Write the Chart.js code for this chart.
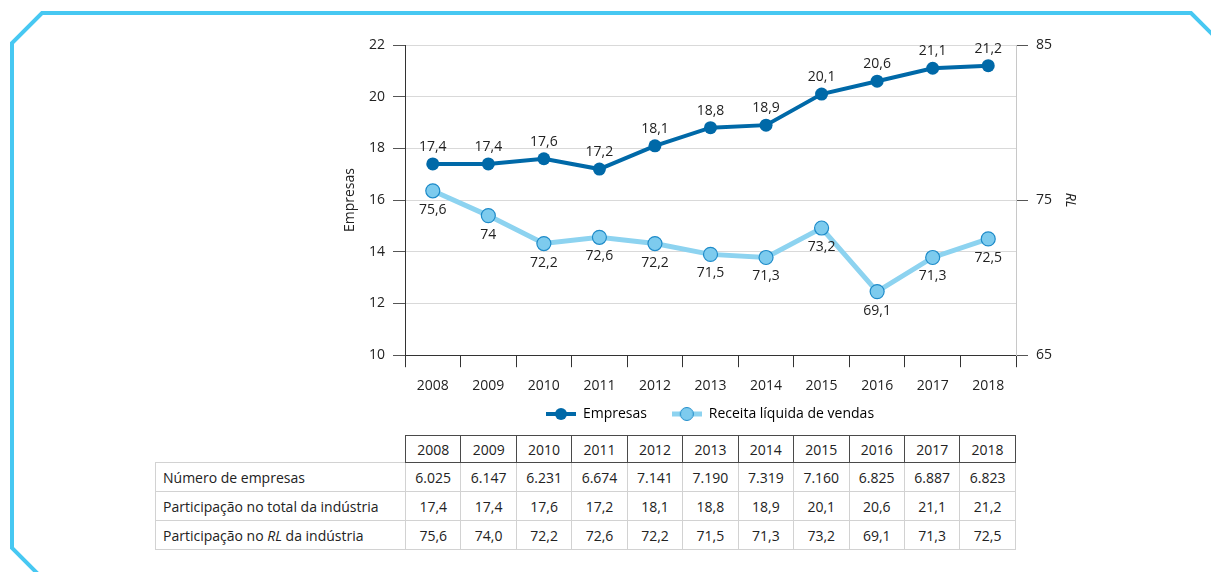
<!DOCTYPE html>
<html>
<head>
<meta charset="utf-8">
<script src="https://cdn.jsdelivr.net/npm/chart.js@4"></script>
<style>
  html, body { margin: 0; padding: 0; background: #fff; }
  body { width: 1211px; height: 572px; position: relative; overflow: hidden; font-family: 'Open Sans', sans-serif; color: #222; }
  #frame { position: absolute; left: 0; top: 0; }
  #chartBox { position: absolute; left: 0; top: 0; width: 1211px; height: 431px; }
  #dataTable { position: absolute; left: 155px; top: 435px; border-collapse: collapse; font-size: 14px; color: #222; table-layout: fixed; }
  #dataTable th, #dataTable td { height: 26px; padding: 0; text-align: center; font-weight: normal; }
  #dataTable thead th { border: 1.5px solid #4a4a4a; }
  #dataTable thead th.blank { border: none; }
  #dataTable tbody td { border: 1px solid #d2d2d2; height: 28px; }
  #dataTable tbody td.rowLabel { text-align: left; padding-left: 7px; }
</style>
</head>
<body>
<svg id="frame" width="1211" height="572">
  <polyline points="60,596 12,548 12,43 42,13 1191,13 1240,62" fill="none" stroke="#47c8f2" stroke-width="4"/>
</svg>
<div id="chartBox"><canvas id="graph1"></canvas></div>
<table id="dataTable"></table>

<script>
// chart data
var years = ["2008", "2009", "2010", "2011", "2012", "2013", "2014", "2015", "2016", "2017", "2018"];
var empresasShare = [17.4, 17.4, 17.6, 17.2, 18.1, 18.8, 18.9, 20.1, 20.6, 21.1, 21.2];
var rlShare = [75.6, 74.0, 72.2, 72.6, 72.2, 71.5, 71.3, 73.2, 69.1, 71.3, 72.5];
var numEmpresas = ["6.025", "6.147", "6.231", "6.674", "7.141", "7.190", "7.319", "7.160", "6.825", "6.887", "6.823"];
var leftTicks = [10, 12, 14, 16, 18, 20, 22];
var rightTicks = [65, 75, 85];

var darkBlue = "rgba(0, 105, 168, 1)";
var lightLine = "rgba(141, 211, 240, 1)";
var lightFill = "rgba(125, 203, 238, 1)";
var lightBorder = "rgba(30, 139, 201, 1)";
var textCol = "#222";

Chart.defaults.font.family = "'Open Sans', sans-serif";
Chart.defaults.font.size = 14;
Chart.defaults.color = textCol;

//Build the data table
var table = document.getElementById("dataTable");
var colGroup = document.createElement("colgroup");
var firstCol = document.createElement("col");
firstCol.style.width = "250px";
colGroup.appendChild(firstCol);
years.forEach(() => {
    let c = document.createElement("col");
    c.style.width = "55.45px";
    colGroup.appendChild(c);
});
table.appendChild(colGroup);

var thead = document.createElement("thead");
var headRow = document.createElement("tr");
var blank = document.createElement("th");
blank.className = "blank";
headRow.appendChild(blank);
years.forEach(y => {
    let th = document.createElement("th");
    th.textContent = y;
    headRow.appendChild(th);
});
thead.appendChild(headRow);
table.appendChild(thead);

function fmt(v, keepDecimal){
    return (keepDecimal ? v.toFixed(1) : String(v)).replace(".", ",");
}

var tbody = document.createElement("tbody");
var rows = [
    ["Número de empresas", numEmpresas],
    ["Participação no total da indústria", empresasShare.map(v => fmt(v, true))],
    ["Participação no <i>RL</i> da indústria", rlShare.map(v => fmt(v, true))]
];
rows.forEach(r => {
    let tr = document.createElement("tr");
    let lab = document.createElement("td");
    lab.className = "rowLabel";
    lab.innerHTML = r[0];
    tr.appendChild(lab);
    r[1].forEach(v => {
        let td = document.createElement("td");
        td.textContent = v;
        tr.appendChild(td);
    });
    tbody.appendChild(tr);
});
table.appendChild(tbody);

//Legend icons: line with a circle on it
function legendIcon(lineCol, fillCol, strokeCol, lineW, r){
    let c = document.createElement("canvas");
    c.width = 30;
    c.height = 16;
    let ctx = c.getContext("2d");
    ctx.strokeStyle = lineCol;
    ctx.lineWidth = lineW;
    ctx.beginPath();
    ctx.moveTo(0, 8);
    ctx.lineTo(30, 8);
    ctx.stroke();
    ctx.beginPath();
    ctx.arc(15, 8, r, 0, Math.PI * 2);
    ctx.fillStyle = fillCol;
    ctx.fill();
    if(strokeCol){
        ctx.lineWidth = 1;
        ctx.strokeStyle = strokeCol;
        ctx.stroke();
    }
    return c;
}
var iconEmp = legendIcon(darkBlue, darkBlue, null, 4, 6);
var iconRl = legendIcon(lightLine, lightFill, lightBorder, 5, 6.5);

//Value labels drawn over the points
var valueLabels = {
    id: "valueLabels",
    afterDatasetsDraw(chart){
        let ctx = chart.ctx;
        ctx.save();
        ctx.font = "14px 'Open Sans', sans-serif";
        ctx.fillStyle = textCol;
        ctx.textAlign = "center";
        ctx.textBaseline = "middle";
        chart.data.datasets.forEach((ds, i) => {
            let meta = chart.getDatasetMeta(i);
            meta.data.forEach((pt, j) => {
                let dy = i == 0 ? -17 : 19;
                ctx.fillText(fmt(ds.data[j], false), pt.x, pt.y + dy);
            });
        });
        ctx.restore();
    }
};

var ctx = document.getElementById("graph1").getContext("2d");
var graph1 = new Chart(ctx, {
    type: "line",
    data: {
        labels: years,
        datasets: [
            {
                label: "Empresas",
                data: empresasShare,
                yAxisID: "y",
                borderColor: darkBlue,
                backgroundColor: darkBlue,
                borderWidth: 4,
                pointRadius: 6.5,
                pointBorderWidth: 0,
                pointBackgroundColor: darkBlue,
                tension: 0
            },
            {
                label: "Receita líquida de vendas",
                data: rlShare,
                yAxisID: "y1",
                borderColor: lightLine,
                backgroundColor: lightFill,
                borderWidth: 5,
                pointRadius: 7,
                pointBorderWidth: 1.2,
                pointBackgroundColor: lightFill,
                pointBorderColor: lightBorder,
                tension: 0
            }
        ]
    },
    options: {
        responsive: true,
        maintainAspectRatio: false,
        animation: false,
        layout: { padding: { left: 338, right: 129, top: 45, bottom: 0 } },
        plugins: {
            tooltip: { enabled: false },
            legend: {
                position: "bottom",
                labels: {
                    usePointStyle: true,
                    pointStyleWidth: 30,
                    padding: 3,
                    color: textCol,
                    font: { size: 14 },
                    generateLabels: function(chart){
                        // trailing spaces keep the wide gap between the two items
                        return [
                            { text: "Empresas\u00a0\u00a0\u00a0\u00a0\u00a0\u00a0", pointStyle: iconEmp, datasetIndex: 0, fillStyle: darkBlue, strokeStyle: darkBlue, lineWidth: 0, hidden: false },
                            { text: "Receita líquida de vendas", pointStyle: iconRl, datasetIndex: 1, fillStyle: lightFill, strokeStyle: lightBorder, lineWidth: 0, hidden: false }
                        ];
                    }
                }
            }
        },
        scales: {
            x: {
                offset: true,
                grid: { offset: true, drawOnChartArea: false, tickLength: 12, tickColor: "#333", color: "#333" },
                border: { color: "#333", width: 1 },
                ticks: { padding: 10, color: textCol }
            },
            y: {
                position: "left",
                min: 10,
                max: 22,
                afterBuildTicks: function(scale){ scale.ticks = leftTicks.map(v => ({ value: v })); },
                grid: { color: "#d9d9d9", tickColor: "#555", tickLength: 12 },
                border: { color: "#333", width: 1 },
                ticks: { padding: 8, color: textCol },
                title: { display: true, text: "Empresas", color: textCol, font: { size: 14 }, padding: 4 },
                afterFit: function(scale){ scale.width = 67; }
            },
            y1: {
                position: "right",
                min: 65,
                max: 85,
                afterBuildTicks: function(scale){ scale.ticks = rightTicks.map(v => ({ value: v })); },
                grid: { drawOnChartArea: false, tickColor: "#555", tickLength: 12 },
                border: { color: "#c8c8c8", width: 1 },
                ticks: { padding: 8, color: textCol },
                title: { display: true, text: "RL", color: textCol, font: { size: 14, style: "italic" }, padding: 4 },
                afterFit: function(scale){ scale.width = 66; }
            }
        }
    },
    plugins: [valueLabels]
});
</script>
</body>
</html>
